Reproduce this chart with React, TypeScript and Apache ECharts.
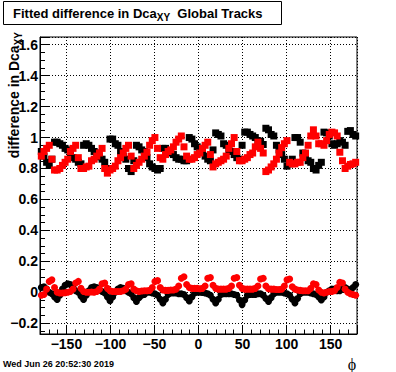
import React, { useEffect, useRef } from "react";
import * as echarts from "echarts";

// bin centres in phi (degrees)
const phi: number[] = [
  -178.5, -175.5, -172.5, -169.5, -166.5, -163.5, -160.5, -157.5, -154.5, -151.5,
  -148.5, -145.5, -142.5, -139.5, -136.5, -133.5, -130.5, -127.5, -124.5, -121.5,
  -118.5, -115.5, -112.5, -109.5, -106.5, -103.5, -100.5, -97.5, -94.5, -91.5,
  -88.5, -85.5, -82.5, -79.5, -76.5, -73.5, -70.5, -67.5, -64.5, -61.5,
  -58.5, -55.5, -52.5, -49.5, -46.5, -43.5, -40.5, -37.5, -34.5, -31.5,
  -28.5, -25.5, -22.5, -19.5, -16.5, -13.5, -10.5, -7.5, -4.5, -1.5,
  1.5, 4.5, 7.5, 10.5, 13.5, 16.5, 19.5, 22.5, 25.5, 28.5,
  31.5, 34.5, 37.5, 40.5, 43.5, 46.5, 49.5, 52.5, 55.5, 58.5,
  61.5, 64.5, 67.5, 70.5, 73.5, 76.5, 79.5, 82.5, 85.5, 88.5,
  91.5, 94.5, 97.5, 100.5, 103.5, 106.5, 109.5, 112.5, 115.5, 118.5,
  121.5, 124.5, 127.5, 130.5, 133.5, 136.5, 139.5, 142.5, 145.5, 148.5,
  151.5, 154.5, 157.5, 160.5, 163.5, 166.5, 169.5, 172.5, 175.5, 178.5,
];

// black squares (upper band)
const blackUpper: number[] = [
  0.91, 0.88, 0.84, 0.82, 0.86, 0.97, 0.97, 0.96, 0.95, 0.93,
  0.92, 0.90, 0.87, 0.86, 0.84, 0.83, 0.95, 0.96, 0.95, 0.93,
  0.91, 0.90, 0.875, 0.86, 0.84, 0.80, 0.99, 0.99, 0.96, 0.95,
  0.91, 0.88, 0.86, 0.80, 0.78, 0.85, 0.95, 0.94, 0.92, 0.91,
  0.87, 0.83, 0.81, 0.80, 0.79, 0.80, 0.93, 0.93, 0.91, 0.90,
  0.89, 0.87, 0.86, 0.86, 0.85, 0.85, 1.0, 0.99, 0.96, 0.94,
  0.93, 0.91, 0.88, 0.86, 0.85, 0.92, 1.03, 1.02, 1.01, 0.96,
  0.95, 0.92, 0.91, 0.89, 0.87, 0.86, 0.95, 1.035, 1.035, 1.02,
  1.01, 1.0, 0.98, 0.975, 0.955, 1.06, 1.05, 1.02, 1.01, 0.95,
  0.92, 0.89, 0.86, 0.815, 0.83, 0.86, 1.0, 1.0, 0.97, 0.9,
  0.88, 0.85, 0.84, 0.8, 0.79, 0.82, 0.84, 1.035, 1.03, 1.01,
  0.96, 0.95, 0.96, 0.98, 0.97, 0.95, 1.04, 1.045, 1.02, 1.01,
];

// red squares (upper band)
const redUpper: number[] = [
  0.88, 0.91, 0.93, 0.95, 0.86, 0.79, 0.79, 0.8, 0.82, 0.84,
  0.86, 0.91, 0.93, 0.95, 0.87, 0.8, 0.8, 0.81, 0.815, 0.85,
  0.86, 0.88, 0.9, 0.93, 0.8, 0.77, 0.79, 0.8, 0.815, 0.85,
  0.87, 0.9, 0.93, 0.95, 0.88, 0.8, 0.82, 0.84, 0.86, 0.88,
  0.905, 0.95, 0.98, 1.0, 0.93, 0.87, 0.86, 0.89, 0.91, 0.92,
  0.94, 0.97, 0.99, 1.01, 0.94, 0.88, 0.86, 0.86, 0.87, 0.89,
  0.9, 0.93, 0.95, 0.97, 0.89, 0.81, 0.83, 0.84, 0.85, 0.86,
  0.88, 0.93, 0.96, 1.0, 0.91, 0.85, 0.85, 0.86, 0.87, 0.89,
  0.9, 0.94, 0.97, 0.93, 0.9, 0.78, 0.79, 0.81, 0.83, 0.86,
  0.9, 0.935, 0.96, 0.98, 0.84, 0.83, 0.83, 0.84, 0.84, 0.87,
  0.9, 0.95, 1.01, 1.05, 1.01, 0.96, 0.96, 0.95, 0.98, 1.02,
  1.035, 1.03, 1.01, 0.905, 0.85, 0.8, 0.815, 0.826, 0.83, 0.84,
];

// black circles (lower band)
const blackLower: number[] = [
  0.03, 0.035, 0.02, 0.0, -0.01, -0.03, -0.047, -0.02, 0.02, 0.045,
  0.055, 0.05, 0.03, 0.01, 0.0, -0.025, -0.047, -0.02, 0.01, 0.03,
  0.035, 0.03, 0.015, 0.005, -0.005, -0.03, -0.055, -0.03, 0.0, 0.02,
  0.03, 0.025, 0.01, 0.0, -0.01, -0.035, -0.06, -0.035, -0.02, -0.015,
  0.0, 0.0, -0.005, -0.01, -0.02, -0.045, -0.07, -0.045, -0.015, -0.005,
  -0.005, -0.005, -0.01, -0.01, -0.015, -0.035, -0.056, -0.03, -0.005, 0.0,
  0.0, -0.002, -0.005, -0.01, -0.02, -0.045, -0.07, -0.045, -0.015, -0.01,
  -0.01, -0.01, -0.01, -0.015, -0.02, -0.05, -0.08, -0.05, -0.02, -0.015,
  -0.015, -0.015, -0.01, -0.01, -0.02, -0.04, -0.06, -0.035, -0.01, 0.0,
  0.0, 0.0, -0.005, -0.01, -0.02, -0.045, -0.07, -0.04, -0.01, 0.0,
  0.0, 0.0, -0.005, -0.01, -0.015, -0.03, -0.05, -0.03, 0.0, 0.01,
  0.02, 0.02, 0.01, 0.01, 0.02, 0.03, 0.02, 0.01, 0.03, 0.05,
];

// red circles (lower band)
const redLower: number[] = [
  -0.02, -0.015, 0.02, 0.07, 0.08, 0.03, 0.0, -0.005, -0.005, -0.003,
  0.0, 0.005, 0.02, 0.06, 0.07, 0.025, 0.005, 0.0, 0.0, 0.002,
  0.0, 0.005, 0.02, 0.055, 0.06, 0.025, 0.01, 0.005, 0.005, 0.005,
  0.005, 0.01, 0.02, 0.05, 0.055, 0.02, 0.01, 0.005, 0.008, 0.01,
  0.01, 0.012, 0.03, 0.07, 0.075, 0.03, 0.015, 0.012, 0.012, 0.015,
  0.015, 0.02, 0.04, 0.09, 0.1, 0.05, 0.03, 0.025, 0.025, 0.025,
  0.022, 0.025, 0.04, 0.09, 0.095, 0.045, 0.025, 0.02, 0.02, 0.02,
  0.02, 0.025, 0.04, 0.09, 0.095, 0.045, 0.025, 0.02, 0.02, 0.02,
  0.02, 0.025, 0.04, 0.085, 0.09, 0.04, 0.022, 0.02, 0.02, 0.018,
  0.018, 0.02, 0.04, 0.08, 0.085, 0.035, 0.02, 0.015, 0.012, 0.01,
  0.01, 0.01, 0.025, 0.055, 0.05, 0.015, 0.0, -0.005, 0.0, 0.005,
  0.005, 0.01, 0.03, 0.065, 0.06, 0.02, 0.0, -0.01, -0.015, -0.02,
];

const titleMain = "Fitted difference in Dca";
const titleSub = "XY";
const titleTail = "  Global Tracks";
const yTitleMain = "difference in Dca";
const xTitle = "\u03d5";
const dateText = "Wed Jun 26 20:52:30 2019";

const FONT = "Liberation Sans";

const pairs = (ys: number[]) => phi.map((x, i) => [x, ys[i]]);
const fmt = (v: number) => String(v).replace("-", "\u2212");

export default function App() {
  const ref = useRef<HTMLDivElement>(null);
  useEffect(() => {
    if (!ref.current) return;
    const chart = echarts.init(ref.current, undefined, { renderer: "svg" });
    const richTitle = {
      t: { fontSize: 13, fontWeight: "bold", fontFamily: FONT, lineHeight: 18, fill: "#000", color: "#000" },
      s: { fontSize: 10, fontWeight: "bold", fontFamily: FONT, lineHeight: 8, verticalAlign: "bottom", fill: "#000", color: "#000" },
    };
    const richY = {
      t: { fontSize: 14, fontWeight: "bold", fontFamily: FONT, lineHeight: 18, fill: "#000", color: "#000" },
      s: { fontSize: 10, fontWeight: "bold", fontFamily: FONT, lineHeight: 8, verticalAlign: "bottom", fill: "#000", color: "#000" },
    };
    const splitLine = { show: true, lineStyle: { color: "#000", width: 1, type: [1, 2] } };
    const axisLine = { show: true, onZero: false, lineStyle: { color: "#000", width: 1 } };
    const option: any = {
      animation: false,
      textStyle: { fontFamily: FONT },
      grid: {
        left: 40, top: 37, width: 317, height: 297,
        show: true, borderColor: "#000", borderWidth: 1, backgroundColor: "#fff",
        containLabel: false, outerBoundsMode: "none",
      },
      xAxis: {
        type: "value", min: -180, max: 180, splitNumber: 8, position: "bottom",
        axisLine, splitLine,
        axisTick: { show: true, inside: true, length: 9, lineStyle: { color: "#000" } },
        minorTick: { show: true, splitNumber: 5, length: 4.5, lineStyle: { color: "#000" } },
        axisLabel: {
          showMinLabel: false, showMaxLabel: false, color: "#000",
          fontSize: 14, fontWeight: "bold", fontFamily: FONT, margin: 3, formatter: fmt,
        },
      },
      yAxis: {
        type: "value", min: -0.27, max: 1.65, splitNumber: 9, position: "left",
        axisLine, splitLine,
        axisTick: { show: true, inside: true, length: 9, lineStyle: { color: "#000" } },
        minorTick: { show: true, splitNumber: 4, length: 5, lineStyle: { color: "#000" } },
        axisLabel: {
          showMinLabel: false, showMaxLabel: false, color: "#000",
          fontSize: 14, fontWeight: "bold", fontFamily: FONT, margin: 2, formatter: fmt,
        },
      },
      series: [
        { type: "scatter", name: "black upper", data: pairs(blackUpper), symbol: "rect", symbolSize: 7, itemStyle: { color: "#000", opacity: 1 }, z: 2 },
        { type: "scatter", name: "black lower", data: pairs(blackLower), symbol: "circle", symbolSize: 7, itemStyle: { color: "#000", opacity: 1 }, z: 2 },
        { type: "scatter", name: "red upper", data: pairs(redUpper), symbol: "rect", symbolSize: 7, itemStyle: { color: "#ff0000", opacity: 1 }, z: 3 },
        { type: "scatter", name: "red lower", data: pairs(redLower), symbol: "circle", symbolSize: 7, itemStyle: { color: "#ff0000", opacity: 1 }, z: 3 },
      ],
      graphic: [
        {
          type: "rect", z: 10,
          shape: { x: 3.5, y: 1.5, width: 278, height: 23 },
          style: { fill: "#fff", stroke: "#000", lineWidth: 1 },
        },
        {
          type: "text", z: 11, x: 13, y: 13,
          style: {
            text: `{t|${titleMain}}{s|${titleSub}}{t|${titleTail}}`,
            rich: richTitle, align: "left", verticalAlign: "middle",
          },
        },
        {
          type: "text", z: 11, x: 14, y: 32, rotation: Math.PI / 2,
          style: {
            text: `{t|${yTitleMain}}{s|${titleSub}}`,
            rich: richY, align: "right", verticalAlign: "middle",
          },
        },
        {
          type: "text", z: 11, x: 352, y: 364,
          style: { text: xTitle, fontSize: 16, fontFamily: "Liberation Serif", fill: "#000", align: "center", verticalAlign: "middle" },
        },
        {
          type: "text", z: 11, x: 3, y: 364,
          style: { text: dateText, fontSize: 9, fontWeight: "bold", fontFamily: FONT, fill: "#000", align: "left", verticalAlign: "middle" },
        },
      ],
    };
    chart.setOption(option);
    return () => chart.dispose();
  }, []);
  return (
    <div
      ref={ref}
      style={{ position: "absolute", left: 0, top: 0, width: 396, height: 372, background: "#fff" }}
    />
  );
}
